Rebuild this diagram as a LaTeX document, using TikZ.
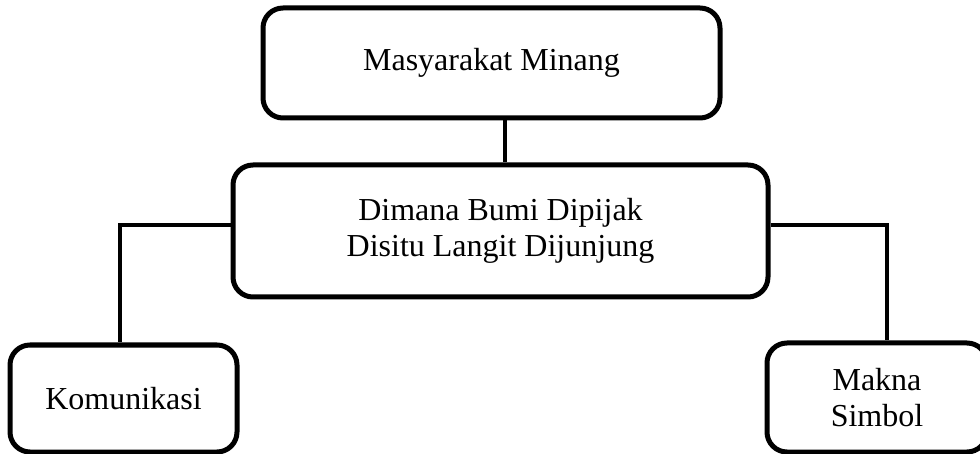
\documentclass[tikz,border=0pt]{standalone}
\usepackage{fontspec}
\setmainfont{Liberation Serif}
\begin{document}
\begin{tikzpicture}[x=1pt,y=1pt,
  box/.style={draw=black, line width=5pt, rounded corners=20pt, align=center,
    inner sep=0pt, font=\fontsize{32}{35.5}\selectfont},
  link/.style={draw=black, line width=4pt}]
\useasboundingbox (0,0) rectangle (980,-454);
\clip (0,0) rectangle (980,-454);
\node[box, minimum width=457pt, minimum height=110pt] (top) at (491.5,-63) {Masyarakat Minang};
\node[box, minimum width=535pt, minimum height=132pt] (mid) at (500.5,-231) {Dimana Bumi Dipijak\\ Disitu Langit Dijunjung};
\node[box, minimum width=227pt, minimum height=107pt] (left) at (123.5,-398.5) {Komunikasi};
\node[box, minimum width=220pt, minimum height=109pt] (right) at (877,-397.5) {Makna\\Simbol};
\coordinate (lc) at (120,-225);
\coordinate (rc) at (887,-225);
\draw[link] (top.south -| 505,0) -- (mid.north -| 505,0);
\draw[link] (mid.west |- lc) -- (lc) -- (lc |- left.north);
\draw[link] (mid.east |- rc) -- (rc) -- (rc |- right.north);
\end{tikzpicture}
\end{document}
